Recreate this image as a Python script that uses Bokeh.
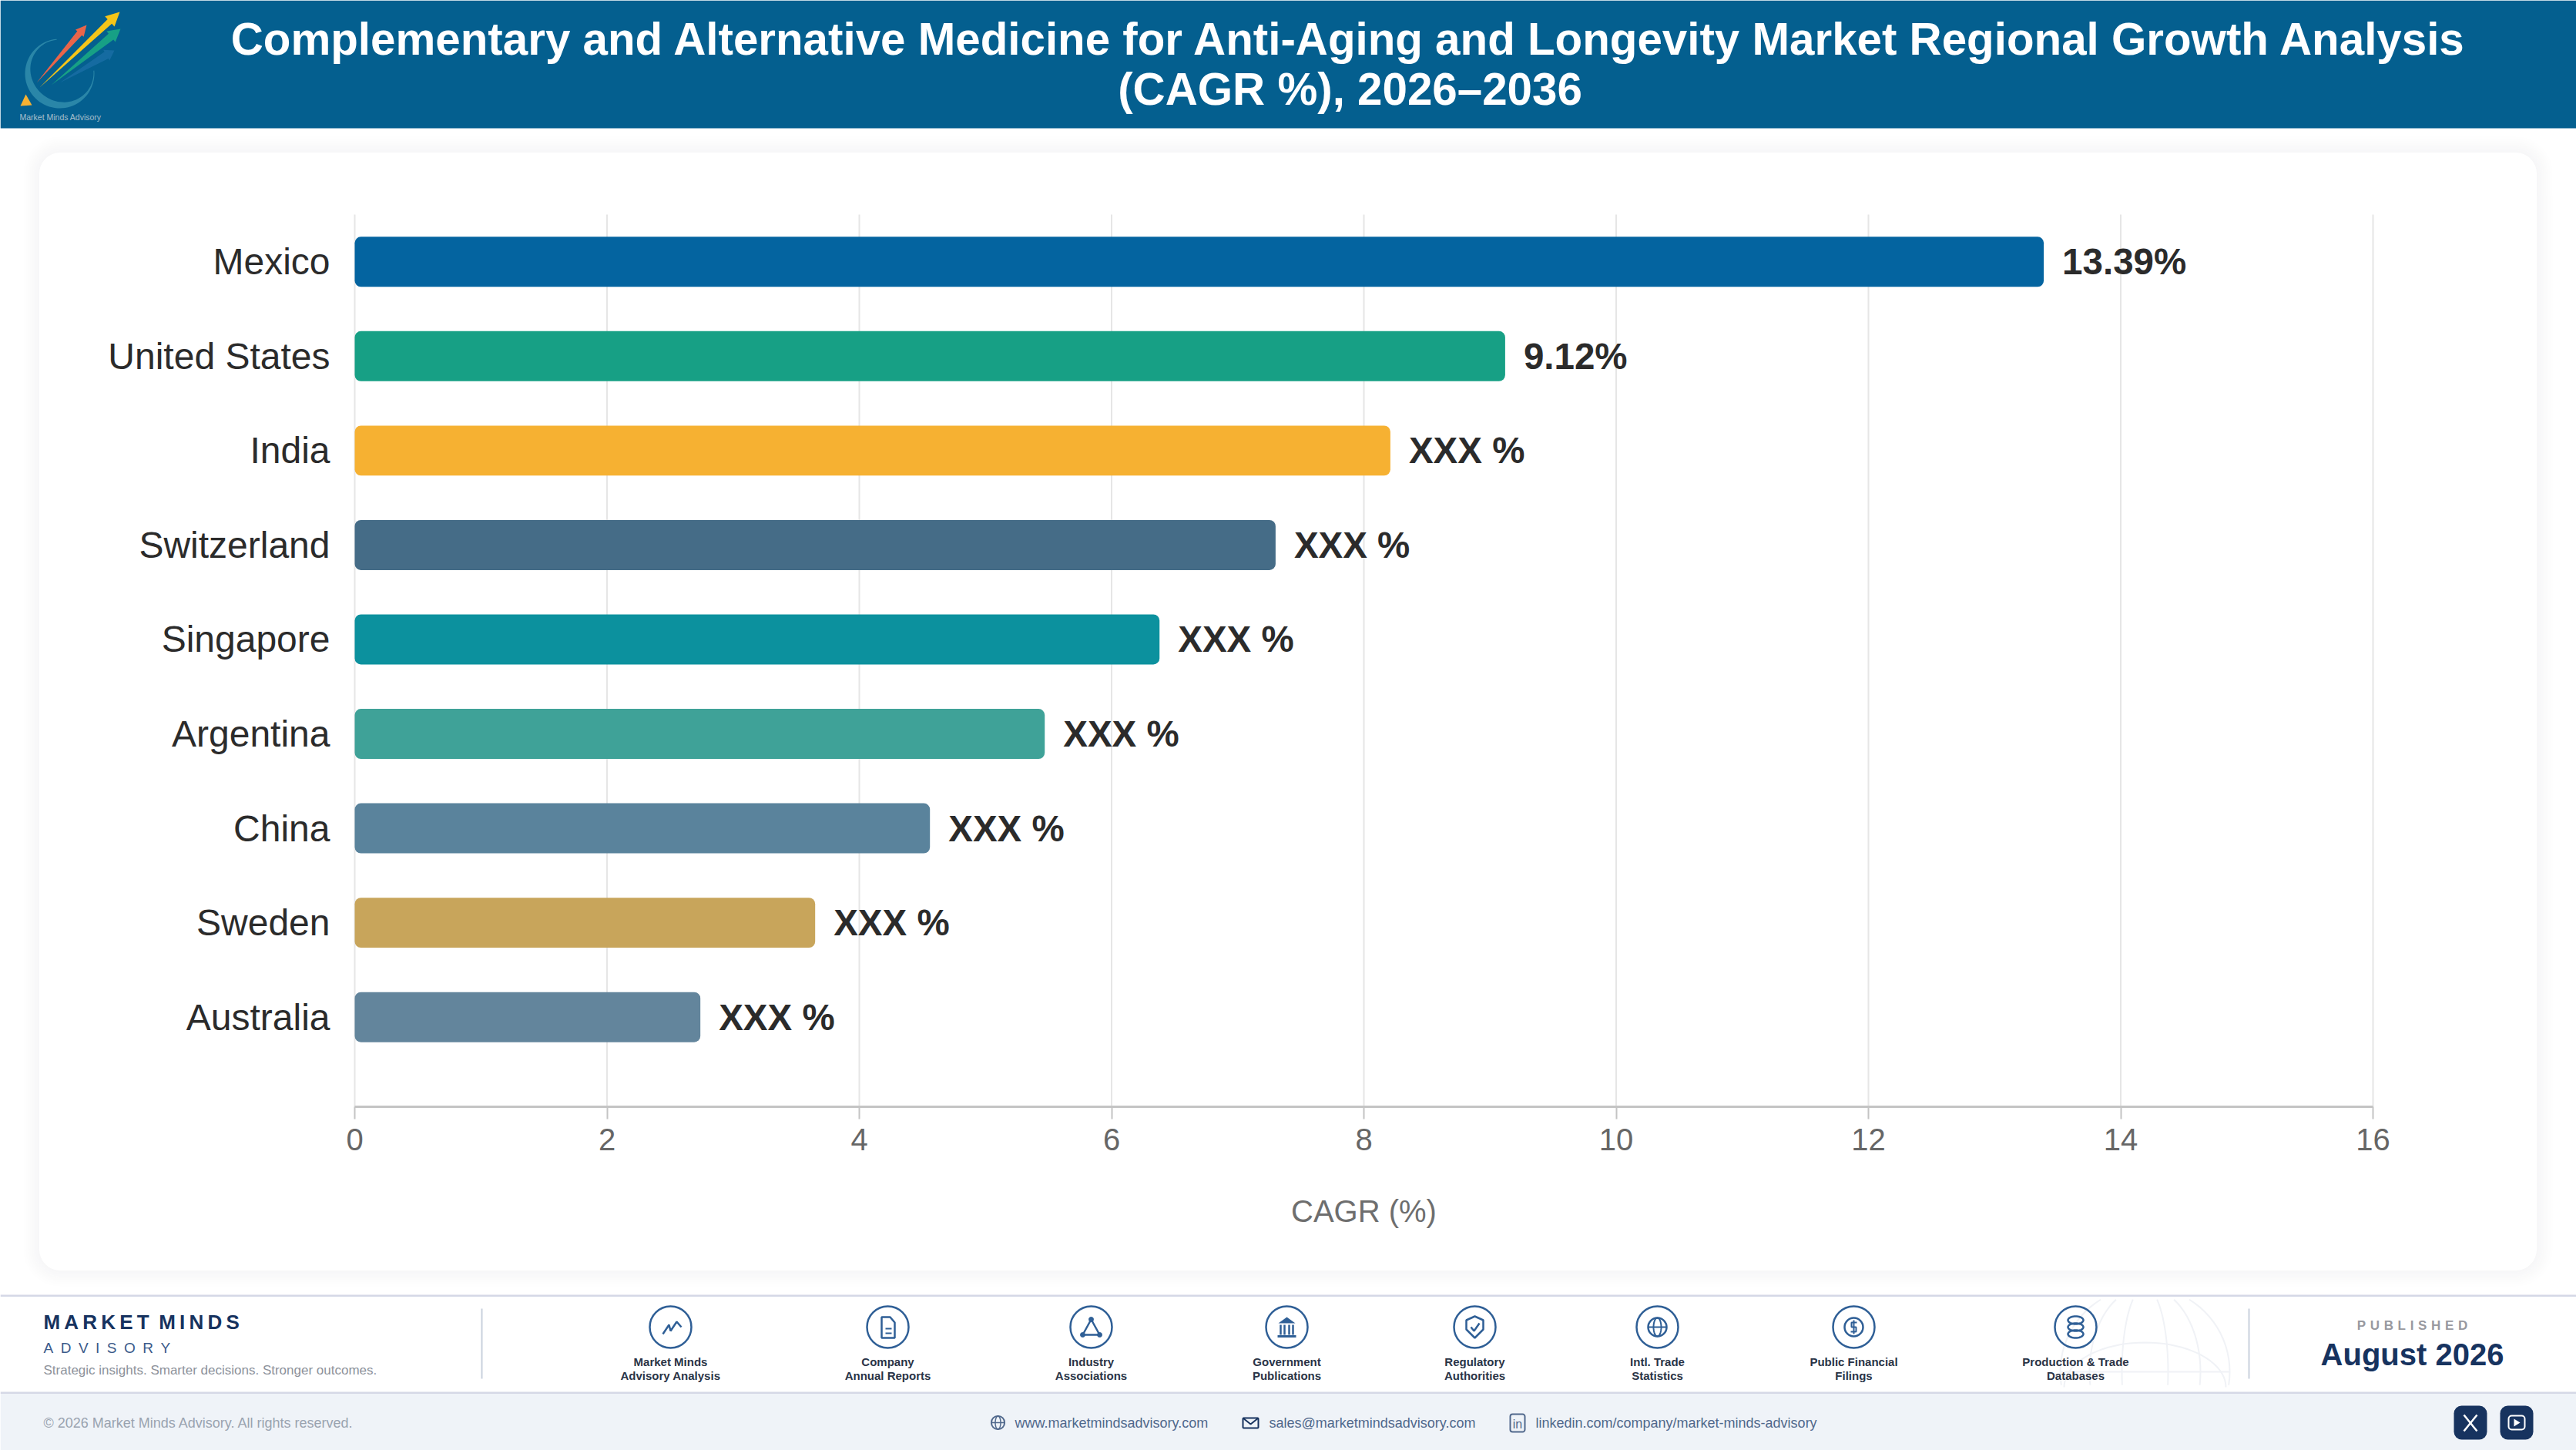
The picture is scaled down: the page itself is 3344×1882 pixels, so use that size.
import math
from bokeh.plotting import figure
from bokeh.core.properties import value
from bokeh.models import (Range1d, FixedTicker, Label, BoxAnnotation, PolyAnnotation, ColumnDataSource)
from bokeh.embed import file_html
from bokeh.resources import INLINE

# ---------- chart data ----------
countries = ["Mexico", "United States", "India", "Switzerland", "Singapore",
             "Argentina", "China", "Sweden", "Australia"]
cagr_values = [13.39, 9.12, 8.21, 7.30, 6.38, 5.47, 4.56, 3.65, 2.74]
value_labels = ["13.39%", "9.12%", "XXX %", "XXX %", "XXX %", "XXX %", "XXX %", "XXX %", "XXX %"]
bar_colors = ["#0464a0", "#17a085", "#f6b132", "#456c87", "#0c919e",
              "#3fa298", "#5a839c", "#c8a55b", "#63859c"]
x_ticks = [0, 2, 4, 6, 8, 10, 12, 14, 16]
title_lines = ["Complementary and Alternative Medicine for Anti-Aging and Longevity Market Regional Growth Analysis",
               "(CAGR %), 2026\u20132036"]
source_names = [("Market Minds", "Advisory Analysis"), ("Company", "Annual Reports"),
                ("Industry", "Associations"), ("Government", "Publications"),
                ("Regulatory", "Authorities"), ("Intl. Trade", "Statistics"),
                ("Public Financial", "Filings"), ("Production & Trade", "Databases")]

FONT = "helvetica"
W, H = 3344, 1882
PL, PR, PT, PB = 460, 3080, 278, 1436
Y_TOP, Y_BOTTOM = -0.5, 8.949
XU = (PR - PL) / 16
YU = (PB - PT) / (Y_BOTTOM - Y_TOP)

positions = list(range(len(countries)))
# the frame covers the whole page, so the header and footer can be drawn around the chart
p = figure(width=W, height=H, output_backend="svg", toolbar_location=None,
           x_range=Range1d(-PL / XU, (W - PL) / XU),
           y_range=Range1d(Y_BOTTOM + (H - PB) / YU, Y_TOP - PT / YU),
           min_border=0, outline_line_color=None, background_fill_color="#ffffff", border_fill_color="#ffffff")
p.grid.visible = False

# ---------- axes ----------
ax = p.xaxis[0]
ax.fixed_location = Y_BOTTOM
ax.bounds = (0, 16)
ax.ticker = FixedTicker(ticks=x_ticks)
ax.axis_label = "CAGR (%)"
ax.axis_label_text_font = FONT
ax.axis_label_text_font_size = "40px"
ax.axis_label_text_font_style = "normal"
ax.axis_label_text_color = "#6e6e6e"
ax.axis_label_standoff = 54
ax.major_label_text_font = FONT
ax.major_label_text_font_size = "40px"
ax.major_label_text_color = "#666666"
ax.major_label_standoff = 12
ax.axis_line_color = "#c4c4c4"
ax.axis_line_width = 3
ax.major_tick_line_color = "#c4c4c4"
ax.major_tick_line_width = 2
ax.major_tick_out = 16
ax.major_tick_in = 0
ax.minor_tick_line_color = None

ay = p.yaxis[0]
ay.fixed_location = 0
ay.bounds = (Y_TOP, Y_BOTTOM)
ay.ticker = FixedTicker(ticks=positions)
ay.major_label_overrides = dict(zip(positions, countries))
ay.major_label_text_font = FONT
ay.major_label_text_font_size = "48px"
ay.major_label_text_color = "#2b2b2b"
ay.major_tick_out = 0
ay.major_tick_in = 0
ay.major_label_standoff = 32
ay.axis_line_color = None
ay.major_tick_line_color = None
ay.minor_tick_line_color = None

# vertical grid lines at the x ticks, limited to the plot height
p.segment(x0=x_ticks, x1=x_ticks, y0=Y_TOP, y1=Y_BOTTOM, line_color="#e6e6e6", line_width=2)

# ---------- bars ----------
src = ColumnDataSource(dict(y=positions, v=cagr_values, c=bar_colors, t=value_labels))
p.hbar(y="y", left=0, right="v", height=0.53, fill_color="c", line_color=None,
       border_radius=8, source=src)
p.text(x="v", y="y", text="t", source=src, x_offset=24, text_baseline="middle", text_align="left",
       text_font=value(FONT), text_font_size="47.5px", text_font_style="bold", text_color="#2b2b2b")

# ---------- page decoration helpers: page pixels -> screen units (y up) ----------
def SX(x):
    return x

def SY(y):
    return H - y

def label(x, y, s, size, color, align="left", bold=False):
    p.add_layout(Label(x=SX(x), y=SY(y), x_units="screen", y_units="screen", text=s, text_font=FONT,
                       text_font_size=f"{size}px", text_color=color, text_align=align,
                       text_baseline="middle", text_font_style="bold" if bold else "normal"))

def box(l, t, r, b, fill=None, line=None, lw=1, radius=0, alpha=1.0):
    p.add_layout(BoxAnnotation(left=SX(l), right=SX(r), top=SY(t), bottom=SY(b),
                               left_units="screen", right_units="screen",
                               top_units="screen", bottom_units="screen", border_radius=int(round(radius)),
                               fill_color=fill or "#ffffff", fill_alpha=alpha if fill else 0,
                               line_color=line or "#ffffff", line_alpha=1 if line else 0, line_width=lw))

def poly(xs, ys, fill, alpha=1.0):
    p.add_layout(PolyAnnotation(xs=[SX(v) for v in xs], ys=[SY(v) for v in ys],
                                xs_units="screen", ys_units="screen",
                                fill_color=fill, fill_alpha=alpha, line_alpha=0))

def pline(xs, ys, color, lw=2, closed=False):
    xs, ys = list(xs), list(ys)
    if closed:
        xs2, ys2 = xs, ys
    else:
        xs2, ys2 = xs + xs[-2:0:-1], ys + ys[-2:0:-1]
    p.add_layout(PolyAnnotation(xs=[SX(v) for v in xs2], ys=[SY(v) for v in ys2],
                                xs_units="screen", ys_units="screen",
                                fill_alpha=0, line_color=color, line_alpha=1, line_width=lw))

def circ(cx, cy, r, color, lw=2, fill=None):
    box(cx - r, cy - r, cx + r, cy + r, fill=fill, line=color, lw=lw, radius=r)

def arc_pts(cx, cy, rx, ry, a0, a1, n=40):
    pts = [(cx + rx * math.cos(math.radians(a0 + (a1 - a0) * i / n)),
            cy + ry * math.sin(math.radians(a0 + (a1 - a0) * i / n))) for i in range(n + 1)]
    return [q[0] for q in pts], [q[1] for q in pts]

# ---------- header ----------
box(0, 0, W, 166, fill="#045f8f")
label(1752, 50, title_lines[0], 58.3, "#ffffff", "center", True)
label(1752, 115, title_lines[1], 58.3, "#ffffff", "center", True)

# logo
def swoosh():
    outer, inner = [], []
    n = 60
    for i in range(n + 1):
        a = -95 - 270 * i / n
        t = i / n
        w = 1 + 9 * math.sin(math.pi * t) ** 2
        ca, sa = math.cos(math.radians(a)), math.sin(math.radians(a))
        outer.append((77 + 45 * ca, 95 + 45 * sa))
        inner.append((77 + (45 - w) * ca, 95 + (45 - w) * sa))
    pts = outer + inner[::-1]
    poly([q[0] for q in pts], [q[1] for q in pts], "#2a86a8")

def arrow(x0, y0, x1, y1, w, hl, hw, color, alpha=1.0):
    d = math.hypot(x1 - x0, y1 - y0)
    ux, uy = (x1 - x0) / d, (y1 - y0) / d
    nx, ny = -uy, ux
    bx, by = x1 - ux * hl, y1 - uy * hl
    xs = [x0, bx + nx * w, bx + nx * hw, x1, bx - nx * hw, bx - nx * w]
    ys = [y0, by + ny * w, by + ny * hw, y1, by - ny * hw, by - ny * w]
    poly(xs, ys, color, alpha)

swoosh()
arrow(77, 107, 148, 65, 5, 12, 8, "#1a6ea5", 0.8)
arrow(47, 107, 112, 32, 4, 14, 7, "#e8654a")
arrow(66, 110, 156, 37, 5, 16, 9, "#17a085")
arrow(51, 113, 155, 15, 4, 18, 9, "#f5c518")
poly([33, 41, 26], [122, 136, 137], "#f6b132")
label(25, 151, "Market Minds Advisory", 10.5, "#a9bfcc")

# ---------- card shadow (concentric outlines) ----------
shades = ["#f7f7f8", "#f8f8f9", "#f9f9fa", "#fafafa", "#fbfbfb", "#fcfcfc", "#fdfdfd", "#fefefe"]
for i, c in enumerate(shades):
    o = 1 + i * 2.5
    box(50 - o, 197 - o, 3293 + o, 1649 + o, line=c, lw=3, radius=28 + o)

# ---------- footer ----------
box(0, 1808, W, H, fill="#eff3f8")
box(0, 1680, W, 1682.5, fill="#d5d8e6")
box(0, 1806, W, 1808.5, fill="#d5d8e6")

# globe watermark
GC = "#f0f2f6"
def clipped(xs, ys, lw=2):
    cur_x, cur_y = [], []
    for x, y in zip(xs, ys):
        if 1683 <= y <= 1805:
            cur_x.append(x); cur_y.append(y)
        elif len(cur_x) > 1:
            pline(cur_x, cur_y, GC, lw); cur_x, cur_y = [], []
        else:
            cur_x, cur_y = [], []
    if len(cur_x) > 1:
        pline(cur_x, cur_y, GC, lw)
for rx in (110, 72, 30):
    xs, ys = arc_pts(2784, 1780, rx, 110, -90, 90)
    clipped(xs, ys)
    xs, ys = arc_pts(2784, 1780, rx, 110, 90, 270)
    clipped(xs, ys)
xs, ys = arc_pts(2784, 1800, 105, 58, 180, 360)
clipped(xs, ys)
pline([2674, 2894], [1780, 1780], GC, 2)

NAVY = "#17335f"
label(56, 1715, "M\u2009A\u2009R\u2009K\u2009E\u2009T\u2009 M\u2009I\u2009N\u2009D\u2009S", 26, NAVY, bold=True)
label(56, 1749, "A\u2002D\u2002V\u2002I\u2002S\u2002O\u2002R\u2002Y", 19, "#3a5a8a")
label(56, 1778, "Strategic insights. Smarter decisions. Stronger outcomes.", 17, "#8d929b")
box(624, 1698, 626, 1789, fill="#c9d1dc")
box(2918, 1698, 2920, 1789, fill="#c9d1dc")

# source icons
IC = "#2f5f96"
icon_x = [870, 1152, 1416, 1670, 1914, 2151, 2406, 2694]
CY = 1722
for cx, names in zip(icon_x, source_names):
    circ(cx, CY, 27, IC, 2.5)
    label(cx, 1767, names[0], 15, "#2a3447", "center", True)
    label(cx, 1785, names[1], 15, "#2a3447", "center", True)

def rel(cx, pts):
    return [cx + q[0] for q in pts], [CY + q[1] for q in pts]

# chart
pline(*rel(icon_x[0], [(-10, 9), (-2, -3), (0, 5), (8, -7), (14, 0)]), IC, 2.5)
# document
pline(*rel(icon_x[1], [(-8, -13), (3, -13), (9, -6), (9, 14), (-8, 14)]), IC, 2.5, closed=True)
pline(*rel(icon_x[1], [(-3, 2), (5, 2)]), IC, 2)
pline(*rel(icon_x[1], [(-3, 8), (5, 8)]), IC, 2)
# network
pline(*rel(icon_x[2], [(0, -10), (-11, 10), (11, 10)]), IC, 2.5, closed=True)
for dx, dy in [(0, -10), (-11, 10), (11, 10)]:
    circ(icon_x[2] + dx, CY + dy, 3, IC, 1, fill=IC)
# government
poly(*rel(icon_x[3], [(-11, -5), (0, -13), (11, -5)]), IC)
for dx in (-8, -3, 3, 8):
    pline(*rel(icon_x[3], [(dx, -3), (dx, 10)]), IC, 2.5)
pline(*rel(icon_x[3], [(-12, 12), (12, 12)]), IC, 3)
# shield
sh = [(0, -14), (11, -9), (11, 3), (0, 14), (-11, 3), (-11, -9)]
pline(*rel(icon_x[4], sh), IC, 2.5, closed=True)
pline(*rel(icon_x[4], [(-5, 0), (-1, 5), (6, -5)]), IC, 2.5)
# globe
circ(icon_x[5], CY, 12, IC, 2.5)
xs, ys = arc_pts(icon_x[5], CY, 5, 12, 0, 360)
pline(xs, ys, IC, 2, closed=True)
pline(*rel(icon_x[5], [(-12, 0), (12, 0)]), IC, 2)
# coin
circ(icon_x[6], CY, 12, IC, 2.5)
pline(*rel(icon_x[6], [(4, -6), (-3, -6), (-3, 0), (3, 0), (3, 6), (-4, 6)]), IC, 2)
pline(*rel(icon_x[6], [(0, -9), (0, 9)]), IC, 2)
# database
for dy in (-9, 0, 9):
    xs, ys = arc_pts(icon_x[7], CY + dy, 10, 5, 0, 360)
    pline(xs, ys, IC, 2.5, closed=True)

# published
label(3131, 1720, "P\u2004U\u2004B\u2004L\u2004I\u2004S\u2004H\u2004E\u2004D", 17, "#98999f", "center", True)
label(3131, 1757, "August 2026", 40, NAVY, "center", True)

# bottom row
label(56, 1846, "\u00a9 2026 Market Minds Advisory. All rights reserved.", 18, "#9aa3b0")
LC = "#50688c"
label(1317, 1846, "www.marketmindsadvisory.com", 18, LC)
label(1647, 1846, "sales@marketmindsadvisory.com", 18, LC)
label(1993, 1846, "linkedin.com/company/market-minds-advisory", 18, LC)
# globe icon
circ(1295, 1846, 8.5, LC, 2)
xs, ys = arc_pts(1295, 1846, 3.5, 8.5, 0, 360)
pline(xs, ys, LC, 1.5, closed=True)
pline([1287, 1303], [1846, 1846], LC, 1.5)
# mail icon
box(1613, 1840, 1633, 1853, line=NAVY, lw=2, radius=1)
pline([1613, 1623, 1633], [1840, 1848, 1840], NAVY, 2)
# linkedin icon
box(1960, 1835, 1979, 1858, line=LC, lw=2, radius=3)
label(1969.5, 1848, "in", 16, LC, "center")

# social buttons
box(3185, 1824, 3228, 1868, fill=NAVY, radius=10)
box(3245, 1824, 3288, 1868, fill=NAVY, radius=10)
pline([3198, 3215], [1836, 1857], "#ffffff", 2.5)
pline([3215, 3198], [1836, 1857], "#ffffff", 2.5)
box(3256, 1837, 3277, 1855, line="#ffffff", lw=2, radius=4)
poly([3263, 3271, 3263], [1841, 1846, 1851], "#ffffff")

open("out.html", "w").write(file_html(p, INLINE))
